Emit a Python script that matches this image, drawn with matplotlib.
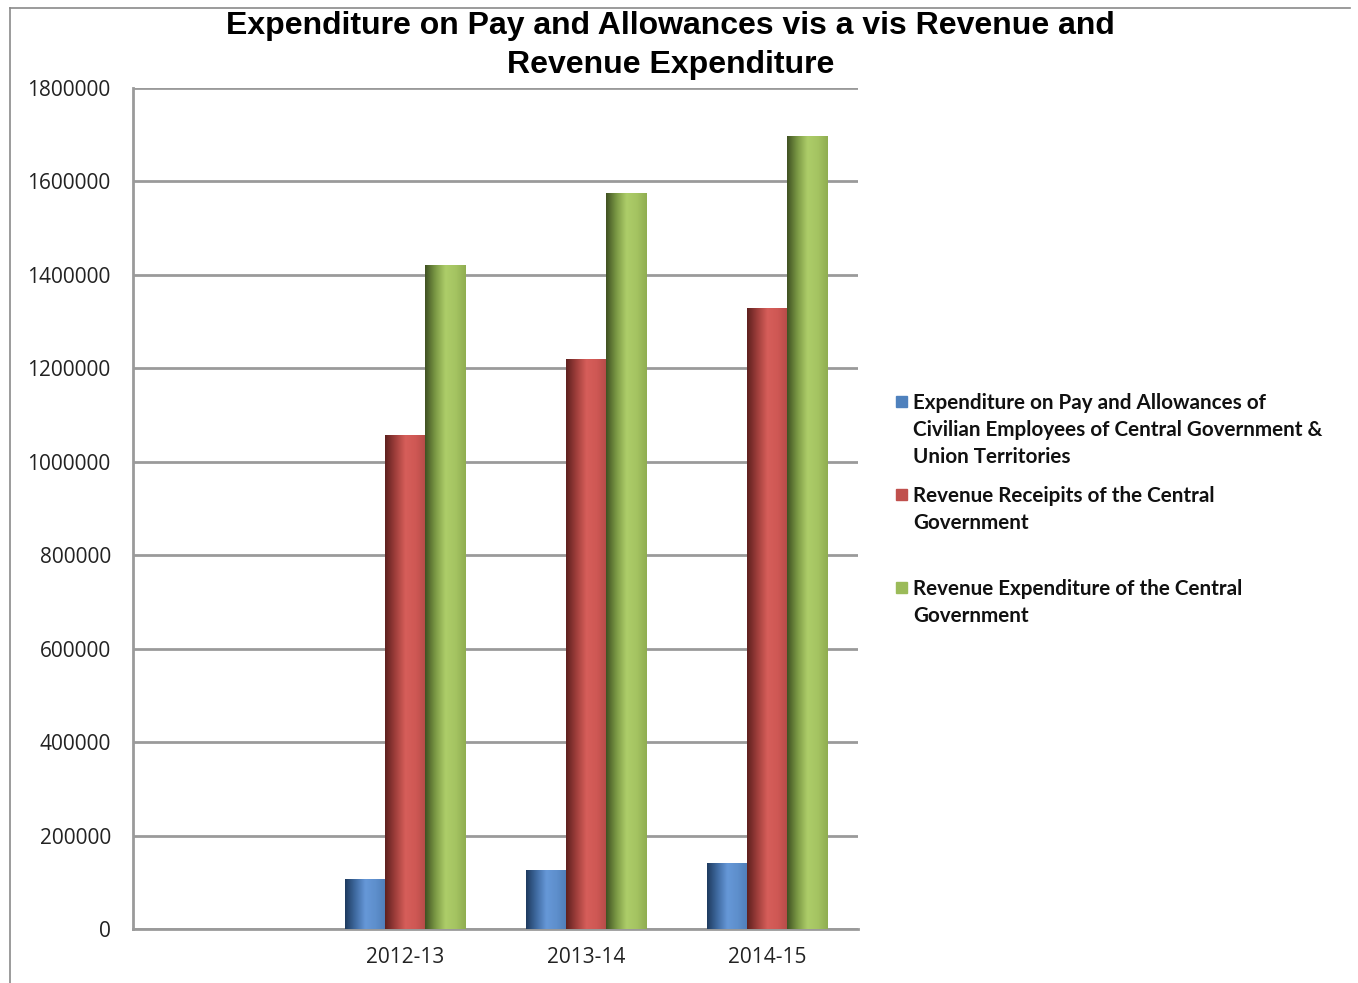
import matplotlib
matplotlib.use("Agg")
import matplotlib.pyplot as plt
import matplotlib.ticker as mticker
import numpy as np
from matplotlib.colors import LinearSegmentedColormap
from matplotlib.lines import Line2D
from matplotlib.patches import Rectangle

# Data
categories = ["", "2012-13", "2013-14", "2014-15"]
pay_allowances = [np.nan, 107000, 126000, 141000]
revenue_receipts = [np.nan, 1057000, 1218000, 1329000]
revenue_expenditure = [np.nan, 1421000, 1575000, 1697000]

labels = [
    "Expenditure on Pay and Allowances of\nCivilian Employees of Central Government &\nUnion Territories",
    "Revenue Receipits of the Central\nGovernment",
    "Revenue Expenditure of the Central\nGovernment",
]
base_colors = ["#4F81BD", "#C0504D", "#9BBB59"]
# dark edge -> light centre -> slightly darker right edge
gradients = [
    ["#1E3A5E", "#3F6AA0", "#6698D8", "#5E8FCC", "#4F7DB8"],
    ["#5E201E", "#9E3E3B", "#D65E5A", "#CF5854", "#B34B48"],
    ["#3F5022", "#7A9844", "#ADCD69", "#A5C462", "#8FAD50"],
]

fig = plt.figure(figsize=(13.58, 9.83), dpi=100)
ax = fig.add_axes([133 / 1358, 1 - 929 / 983, (858 - 133) / 1358, (929 - 88) / 983])

x = np.arange(len(categories))
width = 0.222
series = [pay_allowances, revenue_receipts, revenue_expenditure]
grad = np.linspace(0, 1, 256).reshape(1, -1)

for i, (vals, col, stops) in enumerate(zip(series, base_colors, gradients)):
    bars = ax.bar(x + (i - 1) * width, vals, width, color=col, zorder=3)
    cmap = LinearSegmentedColormap.from_list(f"g{i}", stops)
    for rect in bars:
        h = rect.get_height()
        if not np.isfinite(h):
            continue
        x0, w = rect.get_x(), rect.get_width()
        ax.imshow(grad, cmap=cmap, extent=(x0, x0 + w, 0, h),
                  aspect="auto", zorder=4, interpolation="bicubic")

ax.set_xlim(-0.5, len(categories) - 0.5)
ax.set_ylim(0, 1800000)
ax.set_yticks(np.arange(0, 1800001, 200000))
ax.yaxis.set_major_formatter(mticker.FuncFormatter(lambda v, _p: f"{int(v)}"))
ax.set_xticks(x)
ax.set_xticklabels(categories)

ax.grid(True, axis="y", color="#9a9a9a", linewidth=2, zorder=1)
ax.set_axisbelow(True)
for side in ["top", "right"]:
    ax.spines[side].set_visible(False)
for side in ["left", "bottom"]:
    ax.spines[side].set_color("#9a9a9a")
    ax.spines[side].set_linewidth(2)

ax.tick_params(axis="y", length=0, pad=16, labelsize=15)
ax.tick_params(axis="x", length=0, pad=13, labelsize=15)
for lab in ax.get_xticklabels() + ax.get_yticklabels():
    lab.set_family("Open Sans")
    lab.set_color("#222222")

# Title
fig.text(0.494, 1 - 26 / 983, "Expenditure on Pay and Allowances vis a vis Revenue and",
         ha="center", va="center", fontsize=23, fontweight="bold",
         family="Liberation Sans")
fig.text(0.494, 1 - 65 / 983, "Revenue Expenditure",
         ha="center", va="center", fontsize=23, fontweight="bold",
         family="Liberation Sans")

# Legend drawn by hand to keep Excel's even spacing
leg_y = [402, 495, 588]
for lab, col, y in zip(labels, base_colors, leg_y):
    fig.add_artist(Rectangle((896 / 1358, 1 - (y + 5) / 983), 11 / 1358, 11 / 983,
                             transform=fig.transFigure, color=col))
    fig.text(913 / 1358, 1 - (y - 9) / 983, lab, ha="left", va="top",
             fontsize=14.9, fontweight="bold", family="Lato",
             linespacing=1.43, color="#111111")

# Outer chart border (left and top edges)
fig.add_artist(Line2D([10 / 1358, 10 / 1358], [0, 1 - 8 / 983],
                      transform=fig.transFigure, color="#8a8a8a", lw=1.2))
fig.add_artist(Line2D([10 / 1358, 1350 / 1358], [1 - 8 / 983, 1 - 8 / 983],
                      transform=fig.transFigure, color="#8a8a8a", lw=1.2))

fig.savefig("out.png", dpi=100)
